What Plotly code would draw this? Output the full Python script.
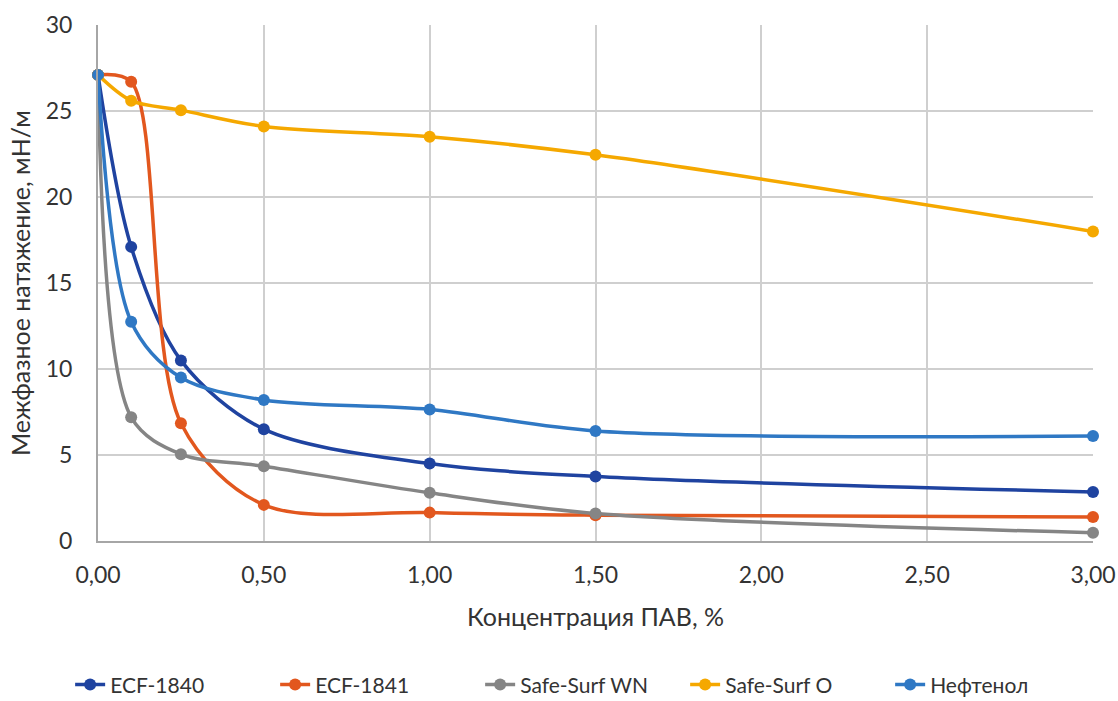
import plotly.graph_objects as go

conc = [0, 0.1, 0.25, 0.5, 1.0, 1.5, 3.0]
names = ["ECF-1840", "ECF-1841", "Safe-Surf WN", "Safe-Surf O", "Нефтенол"]
ecf1840 = [27.1, 17.1, 10.5, 6.5, 4.5, 3.75, 2.85]
ecf1841 = [27.1, 26.7, 6.85, 2.1, 1.65, 1.5, 1.4]
ss_wn = [27.1, 7.2, 5.05, 4.35, 2.8, 1.6, 0.48]
ss_o = [27.1, 25.6, 25.05, 24.1, 23.5, 22.45, 18.0]
neft = [27.1, 12.75, 9.5, 8.2, 7.65, 6.4, 6.1]
series = [ecf1840, ecf1841, ss_wn, ss_o, neft]
colors = ["#1f43a0", "#e2571e", "#858585", "#f5a800", "#2f78c4"]

fig = go.Figure()
for n, ys, c in zip(names, series, colors):
    fig.add_trace(go.Scatter(
        x=conc, y=ys, name=n, mode="lines+markers",
        line=dict(color=c, width=3.5, shape="spline", smoothing=0.9),
        marker=dict(color=c, size=12),
        cliponaxis=False,
    ))

font = "Lato, Open Sans, sans-serif"
fig.update_layout(
    width=1118, height=701,
    margin=dict(l=98, r=25, t=25, b=160, autoexpand=False),
    paper_bgcolor="white", plot_bgcolor="white",
    separators=", ",
    font=dict(family=font, size=23, color="#333333"),
    showlegend=True,
    legend=dict(orientation="h", x=-0.028, xanchor="left", y=-0.279, yanchor="middle",
                font=dict(family=font, size=21, color="#333333"),
                entrywidth=160, entrywidthmode="pixels",
                tracegroupgap=0, traceorder="normal"),
)
fig.update_xaxes(
    range=[0, 3], tickmode="array", tickvals=[0, 0.5, 1, 1.5, 2, 2.5, 3],
    tickformat=".2f", showgrid=True, gridcolor="#cfcfcf", gridwidth=2,
    showline=True, linecolor="#a6a6a6", linewidth=2, zeroline=False,
    ticks="", ticklen=0, ticklabelstandoff=12,
    title=dict(text="Концентрация ПАВ, %", font=dict(size=25), standoff=22),
)
fig.update_yaxes(
    range=[0, 30], tickmode="array", tickvals=[0, 5, 10, 15, 20, 25, 30],
    showgrid=True, gridcolor="#cfcfcf", gridwidth=2,
    showline=True, linecolor="#a6a6a6", linewidth=2, zeroline=False,
    ticklabelstandoff=19,
    title=dict(text="Межфазное натяжение, мН/м", font=dict(size=25), standoff=8),
)
fig.write_html("out.html")
